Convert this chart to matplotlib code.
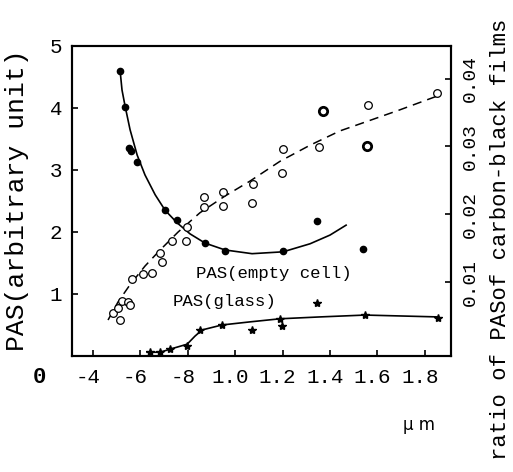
import matplotlib
matplotlib.use("Agg")
import matplotlib.pyplot as plt
import matplotlib.transforms as mtransforms

# wavelength ticks (um) and their printed labels
x_ticks = [0.4, 0.6, 0.8, 1.0, 1.2, 1.4, 1.6, 1.8]
x_labels = ['-4', '-6', '-8', '1.0', '1.2', '1.4', '1.6', '1.8']
y_ticks = [1, 2, 3, 4, 5]
r_ticks = [0.01, 0.02, 0.03, 0.04]
r_labels = ['0.01', '0.02', '0.03', '0.04']

# filled dots: PAS of carbon-black film
dot_x = [0.514, 0.535, 0.552, 0.558, 0.586, 0.704, 0.754, 0.873, 0.957, 1.200, 1.345, 1.540]
dot_y = [4.60, 4.02, 3.35, 3.30, 3.13, 2.35, 2.19, 1.82, 1.69, 1.69, 2.18, 1.72]
# solid curve through the filled dots
curve_x = [0.514, 0.522, 0.535, 0.556, 0.586, 0.619, 0.662, 0.704, 0.754, 0.809, 0.873,
           0.957, 1.071, 1.202, 1.316, 1.400, 1.468]
curve_y = [4.60, 4.29, 4.03, 3.65, 3.24, 2.92, 2.60, 2.35, 2.15, 1.97, 1.82,
           1.71, 1.65, 1.68, 1.81, 1.95, 2.11]

# open circles: ratio (right axis read on left scale)
ring_x = [0.484, 0.505, 0.514, 0.522, 0.548, 0.556, 0.565, 0.611, 0.649, 0.683, 0.691,
          0.733, 0.792, 0.797, 0.868, 0.868, 0.949, 0.949, 1.071, 1.075, 1.198, 1.202,
          1.354, 1.560, 1.852]
ring_y = [0.69, 0.78, 0.58, 0.89, 0.87, 0.82, 1.24, 1.32, 1.34, 1.66, 1.52,
          1.85, 1.85, 2.08, 2.56, 2.40, 2.65, 2.42, 2.47, 2.77, 2.95, 3.34,
          3.37, 4.05, 4.24]
bold_x = [1.37, 1.556]
bold_y = [3.95, 3.39]
# dashed curve through the open circles
dash_x = [0.463, 0.505, 0.556, 0.619, 0.683, 0.759, 0.851, 0.957, 1.062, 1.189,
          1.316, 1.442, 1.569, 1.695, 1.851]
dash_y = [0.58, 0.87, 1.15, 1.45, 1.71, 2.00, 2.31, 2.58, 2.82, 3.14,
          3.40, 3.63, 3.80, 3.97, 4.19]

# stars: PAS(glass)
star_x = [0.641, 0.683, 0.725, 0.797, 0.851, 0.944, 1.071, 1.189, 1.197, 1.345, 1.548, 1.856]
star_y = [0.06, 0.06, 0.11, 0.16, 0.42, 0.50, 0.42, 0.60, 0.48, 0.85, 0.66, 0.61]
glass_x = [0.628, 0.683, 0.725, 0.797, 0.830, 0.860, 0.944, 1.062, 1.189, 1.358, 1.548, 1.856]
glass_y = [0.06, 0.06, 0.11, 0.19, 0.32, 0.42, 0.50, 0.55, 0.60, 0.63, 0.66, 0.63]

mono = 'Liberation Mono'

fig = plt.figure(figsize=(5.13, 4.72), dpi=100)
ax = fig.add_axes([0.1404, 0.2458, 0.7388, 0.6568])

ax.plot(curve_x, curve_y, '-', color='black', lw=1.2)
ax.plot(dot_x, dot_y, 'o', color='black', ms=4.5)
ax.plot(dash_x, dash_y, '--', color='black', lw=1.1, dashes=(6, 4))
ax.plot(ring_x, ring_y, 'o', mfc='white', mec='black', mew=0.9, ms=5.5)
ax.plot(bold_x, bold_y, 'o', mfc='white', mec='black', mew=2.0, ms=6)
ax.plot(glass_x, glass_y, '-', color='black', lw=1.2)
ax.plot(star_x, star_y, '*', color='black', ms=6)

ax.set_xlim(0.311, 1.911)
ax.set_ylim(0, 5)
ax.set_xticks(x_ticks)
ax.set_xticklabels(x_labels, fontfamily=mono, fontsize=15)
ax.set_yticks([0] + y_ticks)
ax.set_yticklabels([''] + [str(v) for v in y_ticks], fontfamily=mono, fontsize=15)
ax.tick_params(direction='in', length=4, width=1.2)
ax.tick_params(axis='x', pad=9)
ax.tick_params(axis='y', pad=7)
shift = mtransforms.ScaledTranslation(-5 / 100, 0, fig.dpi_scale_trans)
for lab in ax.get_xticklabels():
    lab.set_transform(lab.get_transform() + shift)
for s in ax.spines.values():
    s.set_linewidth(1.5)

ax.text(-0.085, -0.07, '0', transform=ax.transAxes, fontfamily=mono, fontsize=16,
        fontweight='bold', ha='center', va='center')

ax2 = ax.twinx()
ax2.set_ylim(-0.0009, 0.0448)
ax2.set_yticks(r_ticks)
ax2.set_yticklabels(r_labels, fontfamily=mono, fontsize=14, rotation=90, va='center')
ax2.tick_params(direction='in', length=4, width=1.2, pad=8)
for s in ax2.spines.values():
    s.set_linewidth(1.5)

fig.text(17 / 513, 1 - 200 / 472, 'PAS(arbitrary unit)', fontfamily=mono, fontsize=19,
         rotation=90, ha='center', va='center')
fig.text(500 / 513, 1 - 239 / 472, 'ratio of PASof carbon-black films', fontfamily=mono,
         fontsize=16, rotation=90, ha='center', va='center')

ax.text(0.327, 0.265, 'PAS(empty cell)', transform=ax.transAxes, fontfamily=mono,
        fontsize=12.5, va='center')
ax.text(0.265, 0.175, 'PAS(glass)', transform=ax.transAxes, fontfamily=mono,
        fontsize=12.5, va='center')
fig.text(403 / 513, 1 - 425 / 472, 'μ m', fontfamily='DejaVu Sans', fontsize=12, va='center')

fig.savefig('out.png', dpi=100)
